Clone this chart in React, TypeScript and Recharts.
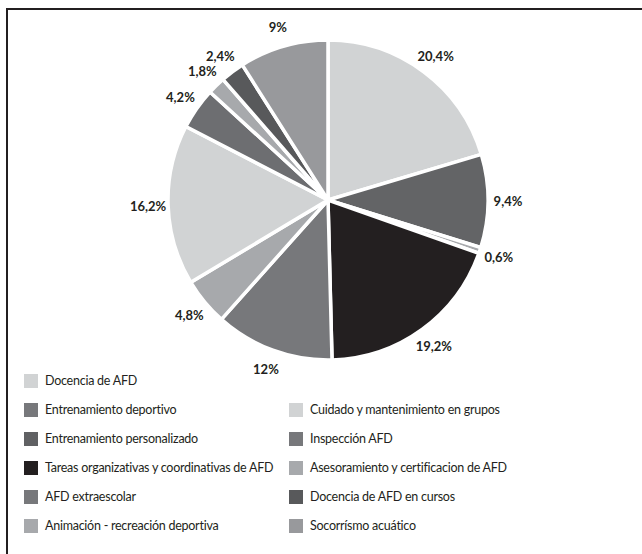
import { PieChart, Pie, Cell, Legend } from 'recharts'

const SLICE_NAMES = [
  'Docencia de AFD',
  'Entrenamiento personalizado',
  'Asesoramiento y certificacion de AFD',
  'Tareas organizativas y coordinativas de AFD',
  'Entrenamiento deportivo',
  'Animación - recreación deportiva',
  'Cuidado y mantenimiento en grupos',
  'AFD extraescolar',
  'Inspección AFD',
  'Docencia de AFD en cursos',
  'Socorrísmo acuático',
]
const SLICE_VALUES = [20.4, 9.4, 0.6, 19.2, 12, 4.8, 16.2, 4.2, 1.8, 2.4, 9]
const SLICE_COLORS = ['#d1d3d4', '#636466', '#a7a9ac', '#231f20', '#77787b', '#a7a9ac', '#d1d3d4', '#6d6e71', '#a7a9ac', '#58595b', '#98999c']

// legend laid out as in the original: two columns, right one starts on row 2
const LEGEND_LEFT = [
  { name: 'Docencia de AFD', color: '#d1d3d4' },
  { name: 'Entrenamiento deportivo', color: '#77787b' },
  { name: 'Entrenamiento personalizado', color: '#606163' },
  { name: 'Tareas organizativas y coordinativas de AFD', color: '#231f20' },
  { name: 'AFD extraescolar', color: '#77787b' },
  { name: 'Animación - recreación deportiva', color: '#a7a9ac' },
]
const LEGEND_RIGHT = [
  { name: 'Cuidado y mantenimiento en grupos', color: '#d1d3d4' },
  { name: 'Inspección AFD', color: '#77787b' },
  { name: 'Asesoramiento y certificacion de AFD', color: '#a7a9ac' },
  { name: 'Docencia de AFD en cursos', color: '#58595b' },
  { name: 'Socorrísmo acuático', color: '#98999c' },
]

const FONT = 'Lato, "Open Sans", sans-serif'

const data = SLICE_NAMES.map((name, i) => ({ name, value: SLICE_VALUES[i] }))

const RAD = Math.PI / 180
const renderLabel = (props: any) => {
  const { cx, cy, midAngle, outerRadius, value } = props
  const r = outerRadius + 20
  const x = cx + r * Math.cos(-midAngle * RAD)
  const y = cy + r * Math.sin(-midAngle * RAD)
  return (
    <text x={x} y={y} textAnchor="middle" dominantBaseline="central" fill="#231f20"
      fontSize={13} fontWeight={700} fontFamily={FONT}>
      {String(value).replace('.', ',')}%
    </text>
  )
}

const LegendRow = ({ name, color }: { name: string; color: string }) => (
  <div style={{ display: 'flex', alignItems: 'center', height: 29, whiteSpace: 'nowrap' }}>
    <span style={{ width: 14, height: 14, background: color, marginRight: 7, flexShrink: 0 }} />
    <span>{name}</span>
  </div>
)

const renderLegend = () => (
  <div style={{ display: 'flex', fontFamily: FONT, fontSize: 12.5, letterSpacing: -0.25, color: '#231f20' }}>
    <div style={{ width: 265 }}>
      {LEGEND_LEFT.map((it) => <LegendRow key={it.name} {...it} />)}
    </div>
    <div style={{ paddingTop: 29 }}>
      {LEGEND_RIGHT.map((it) => <LegendRow key={it.name} {...it} />)}
    </div>
  </div>
)

export default function App() {
  return (
    <div style={{ position: 'relative', width: 642, height: 554, background: '#fff' }}>
      <style>{'body{margin:0}'}</style>
      <div style={{ position: 'absolute', left: 6, top: 8, right: 0, bottom: 0, borderTop: '2px solid #231f20', borderLeft: '2px solid #231f20' }} />
      <PieChart width={642} height={554} style={{ position: 'absolute', left: 0, top: 0 }}>
        <Pie
          data={data}
          dataKey="value"
          cx={323}
          cy={195}
          outerRadius={160}
          startAngle={90}
          endAngle={-270}
          stroke="#fff"
          strokeWidth={3.5}
          label={renderLabel}
          labelLine={false}
          isAnimationActive={false}
        >
          {data.map((d, i) => (
            <Cell key={d.name} fill={SLICE_COLORS[i]} />
          ))}
        </Pie>
        <Legend content={renderLegend} wrapperStyle={{ position: 'absolute', left: 24, top: 366, width: 600 }} />
      </PieChart>
    </div>
  )
}
